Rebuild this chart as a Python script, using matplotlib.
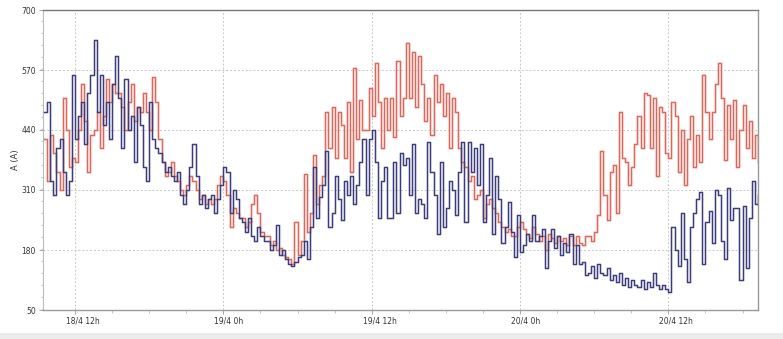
import matplotlib
matplotlib.use("Agg")
import matplotlib.pyplot as plt
import numpy as np
from matplotlib.transforms import ScaledTranslation
from matplotlib.ticker import MultipleLocator

# Current readings, 15-minute samples starting 18/4 09:30 (A)
start_hour = 9.5          # hours after 18/4 00:00
step_hours = 0.25

phase_red = [
    420, 330, 430, 390, 350, 310, 510, 440,
    360, 380, 370, 440, 540, 460, 350, 430,
    440, 480, 400, 470, 550, 500, 540, 520,
    520, 490, 440, 500, 540, 460, 490, 480,
    520, 480, 440, 555, 500, 420, 370, 340,
    350, 370, 340, 330, 310, 300, 320, 340,
    330, 310, 290, 300, 280, 290, 280, 290,
    320, 340, 330, 300, 230, 270, 260, 250,
    250, 230, 240, 280, 300, 260, 220, 210,
    210, 190, 200, 180, 185, 170, 165, 160,
    150, 240, 170, 200, 345, 220, 260, 385,
    280, 320, 340, 480, 400, 490, 380, 480,
    450, 380, 500, 350, 575, 420, 505, 440,
    440, 530, 470, 585, 500, 400, 510, 440,
    510, 425, 590, 470, 510, 628, 510, 610,
    490, 600, 540, 460, 510, 430, 560, 500,
    540, 470, 520, 400, 510, 480, 400, 370,
    360, 330, 340, 290, 300, 310, 250, 280,
    290, 270, 260, 240, 230, 220, 225, 210,
    210, 230, 240, 225, 215, 205, 230, 215,
    200, 210, 180, 215, 205, 195, 210, 200,
    205, 190, 210, 190, 210, 195, 190, 210,
    210, 200, 220, 255, 395, 300, 245, 350,
    365, 260, 480, 380, 370, 320, 360, 410,
    470, 400, 520, 515, 400, 510, 340, 490,
    480, 390, 380, 500, 470, 350, 440, 320,
    420, 470, 360, 430, 370, 560, 480, 420,
    480, 540, 585, 510, 375, 495, 420, 505,
    360, 440, 495, 400, 460, 380, 430, 370,
]

phase_blue = [
    480, 500, 330, 300, 400, 420, 350, 300,
    330, 560, 420, 470, 500, 410, 520, 560,
    635, 480, 560, 450, 500, 420, 540, 600,
    510, 400, 550, 440, 470, 370, 490, 450,
    360, 330, 500, 420, 400, 390, 370, 350,
    360, 340, 330, 350, 300, 280, 310, 360,
    410, 340, 280, 300, 270, 290, 300, 260,
    290, 320, 360, 350, 260, 310, 290, 250,
    240, 220, 250, 210, 200, 230, 210, 200,
    200, 180, 190, 235, 170, 180, 160, 150,
    145, 155, 165, 170, 200, 160, 230, 360,
    250, 295, 320, 395, 230, 260, 340, 290,
    245, 330, 300, 340, 280, 320, 370, 420,
    300, 420, 440, 370, 250, 330, 360, 250,
    250, 370, 260, 390, 365, 380, 300, 410,
    260, 290, 280, 250, 415, 350, 300, 215,
    370, 230, 270, 330, 310, 256, 350, 415,
    240, 415, 350, 400, 320, 410, 240, 300,
    380, 215, 340, 290, 195, 230, 285, 220,
    165, 255, 175, 190, 215, 200, 255, 200,
    210, 225, 140, 200, 225, 185, 210, 170,
    195, 175, 215, 150, 190, 150, 155, 125,
    130, 145, 120, 150, 130, 125, 140, 115,
    125, 110, 130, 105, 120, 100, 115, 105,
    100, 115, 95, 110, 100, 130, 105, 95,
    105, 95, 90, 230, 180, 145, 260, 160,
    110, 230, 260, 290, 305, 150, 240, 265,
    195, 310, 300, 200, 160, 315, 245, 270,
    270, 115, 275, 140, 250, 330, 280, 300,
]

x_ticks = [12, 24, 36, 48, 60]
x_tick_labels = ["18/4 12h", "19/4 0h", "19/4 12h", "20/4 0h", "20/4 12h"]
y_ticks = [50, 180, 310, 440, 570, 700]
y_label = "A (A)"

hours = start_hour + step_hours * np.arange(len(phase_red))

fig = plt.figure(figsize=(7.83, 3.39), dpi=100)
fig.patch.set_facecolor("white")
ax = fig.add_axes([43 / 783, 29 / 339, 715 / 783, 300 / 339])

red_col = "#d56a5f"
blue_col = "#3b3d7a"
# faint halo under each trace
ax.step(hours, phase_red, where="post", color="#f4c4bc", lw=2.4, alpha=0.35, zorder=2)
ax.step(hours, phase_blue, where="post", color="#b8b8d8", lw=2.2, alpha=0.25, zorder=2)
ax.step(hours, phase_red, where="post", color=red_col, lw=1.0, zorder=3)
ax.step(hours, phase_blue, where="post", color=blue_col, lw=1.0, zorder=4)

ax.set_xlim(9.41, 67.25)
ax.set_ylim(50, 700)
ax.set_yticks(y_ticks)
ax.set_yticklabels([str(v) for v in y_ticks])
ax.set_xticks(x_ticks)
ax.set_xticklabels(x_tick_labels)
ax.xaxis.set_minor_locator(MultipleLocator(3))
ax.yaxis.set_minor_locator(MultipleLocator(26))

ax.grid(True, which="major", color="#c8c8c8", linestyle=(0, (2, 2)), linewidth=0.7)
ax.tick_params(axis="both", which="major", labelsize=5.5, length=3, width=0.6,
               color="#999999", labelcolor="#333333", pad=2)
ax.tick_params(axis="both", which="minor", length=1.8, width=0.5, color="#aaaaaa")

offset = ScaledTranslation(-9 / 100, 0, fig.dpi_scale_trans)
for lab in ax.get_xticklabels():
    lab.set_ha("left")
    lab.set_transform(lab.get_transform() + offset)

for side, col, w in [("top", "#777777", 1.0), ("right", "#999999", 1.0),
                     ("left", "#bbbbbb", 0.8), ("bottom", "#999999", 1.0)]:
    ax.spines[side].set_color(col)
    ax.spines[side].set_linewidth(w)

ax.set_ylabel(y_label, fontsize=6, color="#333333", labelpad=1)

# light strip along the bottom edge
fig.patches.append(plt.Rectangle((0, 0), 1, 6 / 339, transform=fig.transFigure,
                                 facecolor="#ececec", edgecolor="none"))

fig.savefig("out.png", dpi=100, facecolor="white")
